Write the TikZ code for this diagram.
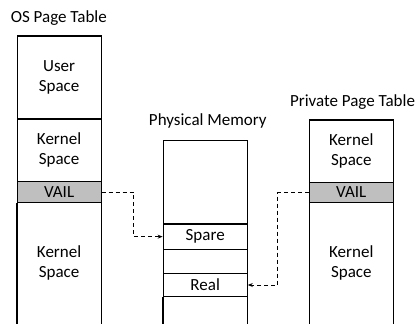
\documentclass[tikz,border=0pt]{standalone}
\usepackage{fontspec}
\setmainfont{Carlito}
\usetikzlibrary{arrows.meta}

\begin{document}
\begin{tikzpicture}[x=1pt, y=-1pt,
    font=\fontsize{17}{20}\selectfont,
    cell/.style={draw, line width=1.2pt, minimum width=84pt, inner sep=0pt, align=center},
    opencell/.style={minimum width=84pt, inner sep=0pt, align=center},
    vail/.style={cell, fill=black!25},
    link/.style={dashed, dash pattern=on 4pt off 3pt, line width=0.9pt, -{Stealth[length=5pt, width=4pt]}}]
    \useasboundingbox (0, 0) rectangle (420, 324);

    % OS page table
    \node[anchor=base] (os-title) at (58.8, 22) {OS Page Table};
    \node[cell, minimum height=83pt] (os-user) at (59.1, 77.5) {User\\Space};
    \node[cell, minimum height=62.7pt] (os-kern1) at (59.1, 150.35) {Kernel\\Space};
    \node[vail, minimum height=21pt] (os-vail) at (59.1, 192.2) {VAIL};
    \node[opencell, minimum height=121.3pt] (os-kern2) at (59.1, 263.35) {Kernel\\Space};
    \draw[line width=1.2pt] (os-kern2.north west) -- (os-kern2.south west);
    \draw[line width=1.2pt] (os-kern2.north east) -- (os-kern2.south east);

    % Physical memory
    \node[anchor=base] (pm-title) at (207.8, 125) {Physical Memory};
    \node[cell, minimum height=83.3pt] (pm-top) at (205.2, 182.35) {};
    \node[cell, minimum height=25.3pt] (pm-spare) at (205.2, 236.65) {Spare};
    \node[cell, minimum height=24pt] (pm-gap) at (205.2, 261.3) {};
    \node[cell, minimum height=23.4pt] (pm-real) at (205.2, 285) {Real};
    \node[opencell, minimum height=27.3pt] (pm-bot) at (205.2, 310.35) {};
    \draw[line width=1.2pt] (pm-bot.north west) -- (pm-bot.south west);
    \draw[line width=1.2pt] (pm-bot.north east) -- (pm-bot.south east);

    % Private page table
    \node[anchor=base] (pt-title) at (352.5, 106.3) {Private Page Table};
    \node[cell, minimum height=62.3pt] (pt-kern1) at (351.3, 151.15) {Kernel\\Space};
    \node[vail, minimum height=20.4pt] (pt-vail) at (351.3, 192.5) {VAIL};
    \node[opencell, minimum height=121.3pt] (pt-kern2) at (351.3, 263.35) {Kernel\\Space};
    \draw[line width=1.2pt] (pt-kern2.north west) -- (pt-kern2.south west);
    \draw[line width=1.2pt] (pt-kern2.north east) -- (pt-kern2.south east);

    % Mappings
    \draw[link] (os-vail.east) -- ++(32, 0) |- (pm-spare.west);
    \draw[link] (pt-vail.west) -- ++(-30.8, 0) |- (pm-real.east);
\end{tikzpicture}
\end{document}
